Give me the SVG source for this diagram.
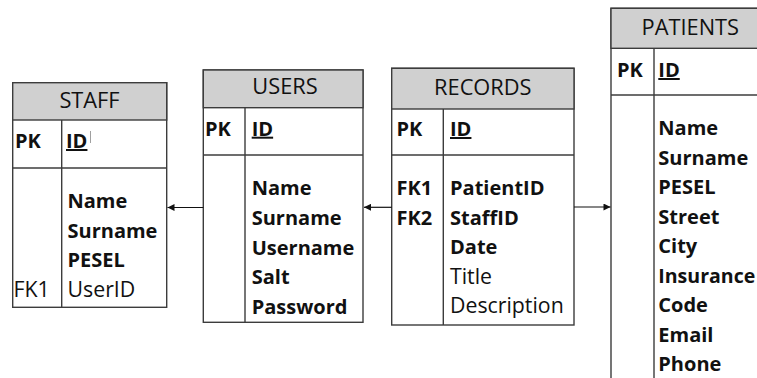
<svg xmlns="http://www.w3.org/2000/svg" width="757" height="378" viewBox="0 0 757 378">
  <style>
    .box { fill: #ffffff; stroke: #3c3c3c; stroke-width: 1.4; }
    .head { fill: #d0d0d0; stroke: #3c3c3c; stroke-width: 1.4; }
    .sep { stroke: #3c3c3c; stroke-width: 1.4; fill: none; }
    text { font-family: "Open Sans", Lato, "Liberation Sans", sans-serif; font-size: 20px; fill: #111111; }
    .title { text-anchor: middle; font-weight: 400; font-size: 21.8px; }
    .b { font-weight: 700; }
    .r { font-weight: 400; font-size: 21.3px; }
    .u { text-decoration: underline; }
    .link { stroke: #111111; stroke-width: 1.2; fill: none; marker-end: url(#arrow); }
  </style>
  <defs>
    <marker id="arrow" viewBox="0 0 10 10" refX="10" refY="5" markerWidth="8" markerHeight="7" markerUnits="userSpaceOnUse" orient="auto">
      <path d="M0,0 L10,5 L0,10 z" fill="#111111"/>
    </marker>
  </defs>

  <rect width="757" height="378" fill="#ffffff"/>

  <!-- STAFF table -->
  <g id="staff">
    <rect class="box" x="12.7" y="82.7" width="154" height="224.6"/>
    <rect class="head" x="12.7" y="82.7" width="154" height="37.3"/>
    <line class="sep" x1="12.7" y1="168" x2="166.7" y2="168"/>
    <line class="sep" x1="61.7" y1="120" x2="61.7" y2="307.3"/>
    <text class="title" x="89.5" y="108">STAFF</text>
    <text class="b" x="15" y="148">PK</text>
    <text class="b u" x="66" y="148">ID</text>
    <line x1="90.5" y1="131" x2="90.5" y2="143" stroke="#888888" stroke-width="0.8"/>
    <text class="b" x="67.5" y="208">Name</text>
    <text class="b" x="67.5" y="237.5">Surname</text>
    <text class="b" x="67.5" y="267">PESEL</text>
    <text class="r" x="67.5" y="296.5">UserID</text>
    <text class="r" x="13.5" y="296.5">FK1</text>
  </g>

  <!-- USERS table -->
  <g id="users">
    <rect class="box" x="203.3" y="70" width="159.7" height="252.3"/>
    <rect class="head" x="203.3" y="70" width="159.7" height="37.7"/>
    <line class="sep" x1="203.3" y1="155" x2="363" y2="155"/>
    <line class="sep" x1="245" y1="107.7" x2="245" y2="322.3"/>
    <text class="title" x="285" y="94.3">USERS</text>
    <text class="b" x="205" y="135.7">PK</text>
    <text class="b u" x="251.7" y="135.7">ID</text>
    <text class="b" x="251.7" y="195">Name</text>
    <text class="b" x="251.7" y="225">Surname</text>
    <text class="b" x="251.7" y="254.5">Username</text>
    <text class="b" x="251.7" y="284">Salt</text>
    <text class="b" x="251.7" y="313.5">Password</text>
  </g>

  <!-- RECORDS table -->
  <g id="records">
    <rect class="box" x="391.7" y="68.3" width="182.3" height="256.7"/>
    <rect class="head" x="391.7" y="68.3" width="182.3" height="40.7"/>
    <line class="sep" x1="391.7" y1="155" x2="574" y2="155"/>
    <line class="sep" x1="443.3" y1="109" x2="443.3" y2="325"/>
    <text class="title" x="482.8" y="95">RECORDS</text>
    <text class="b" x="396.5" y="136">PK</text>
    <text class="b u" x="450" y="136">ID</text>
    <text class="b" x="396.5" y="195">FK1</text>
    <text class="b" x="396.5" y="224.5">FK2</text>
    <text class="b" x="450" y="195">PatientID</text>
    <text class="b" x="450" y="224.5">StaffID</text>
    <text class="b" x="450" y="254">Date</text>
    <text class="r" x="450" y="283.5">Title</text>
    <text class="r" x="450" y="313">Description</text>
  </g>

  <!-- PATIENTS table (runs past the right and bottom edges) -->
  <g id="patients">
    <rect class="box" x="611" y="8.3" width="160" height="380"/>
    <rect class="head" x="611" y="8.3" width="160" height="40"/>
    <line class="sep" x1="611" y1="95" x2="771" y2="95"/>
    <line class="sep" x1="654" y1="48.3" x2="654" y2="390"/>
    <text class="title" x="690.3" y="35">PATIENTS</text>
    <text class="b" x="617" y="77">PK</text>
    <text class="b u" x="658.3" y="77">ID</text>
    <text class="b" x="658.3" y="135">Name</text>
    <text class="b" x="658.3" y="164.5">Surname</text>
    <text class="b" x="658.3" y="194">PESEL</text>
    <text class="b" x="658.3" y="223.5">Street</text>
    <text class="b" x="658.3" y="253">City</text>
    <text class="b" x="658.3" y="282.5" textLength="97" lengthAdjust="spacingAndGlyphs">Insurance</text>
    <text class="b" x="658.3" y="312">Code</text>
    <text class="b" x="658.3" y="341.5">Email</text>
    <text class="b" x="658.3" y="371">Phone</text>
  </g>

  <!-- relationships -->
  <g id="connectors">
    <line class="link" x1="203.3" y1="207.5" x2="167.5" y2="207.5"/>
    <line class="link" x1="391.7" y1="207.3" x2="364" y2="207.3"/>
    <line class="link" x1="574" y1="207" x2="610.5" y2="207"/>
  </g>
</svg>
